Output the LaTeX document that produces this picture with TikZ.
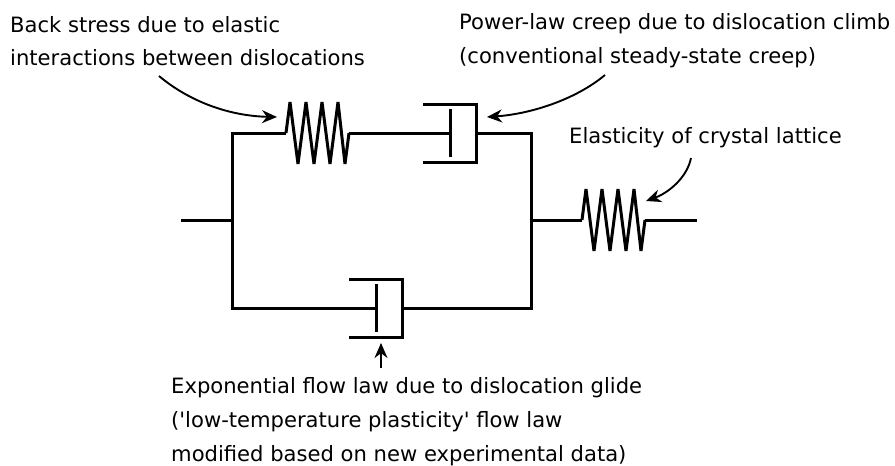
\documentclass[tikz,border=0pt]{standalone}
\usepackage{fontspec}
\setmainfont[Ligatures=TeXOff]{DejaVu Sans}
\usetikzlibrary{arrows.meta}
\tikzset{
    wire/.style={line width=3pt, line join=miter},
    pointer/.style={-{Stealth[length=15pt, width=13pt]}, line width=1.9pt},
    label/.style={anchor=base west, inner sep=0pt, font=\fontsize{21.1}{25}\selectfont}
}
% spring between two terminals, first peak at #1, y centre #2
\newcommand{\springat}[2]{
    \draw[wire, miter limit=3] (#1-4,#2) -- (#1,#2-31) -- (#1+8,#2+31) -- (#1+16,#2-31) -- (#1+24,#2+31)
        -- (#1+32,#2-31) -- (#1+40,#2+31) -- (#1+48,#2-31) -- (#1+55,#2+31) -- (#1+59,#2);
}
% cylinder closed on the right, piston rod at #1+27
\newcommand{\dashpotat}[2]{
    \draw[wire] (#1,#2-29) -- (#1+53,#2-29) -- (#1+53,#2+29) -- (#1,#2+29);
    \draw[wire] (#1+27,#2-24) -- (#1+27,#2+24);
}
\begin{document}
\begin{tikzpicture}[x=1pt, y=-1pt]
    \useasboundingbox (0,0) rectangle (895,466);

    \coordinate (inL)     at (181,220);
    \coordinate (jointL)  at (232,220);
    \coordinate (jointR)  at (531,220);
    \coordinate (outR)    at (697,220);
    \coordinate (cornerTL) at (232,133);
    \coordinate (cornerTR) at (531,133);
    \coordinate (cornerBL) at (232,308);
    \coordinate (cornerBR) at (531,308);
    \coordinate (backIn)  at (286,133);
    \coordinate (backOut) at (349,133);
    \coordinate (creepRod) at (450,133);
    \coordinate (creepEnd) at (476,133);
    \coordinate (glideRod) at (376,308);
    \coordinate (glideEnd) at (402,308);
    \coordinate (latIn)   at (582,220);
    \coordinate (latOut)  at (645,220);

    \springat{290}{133}
    \dashpotat{423}{133}
    \springat{586}{220}
    \dashpotat{349}{308}

    \draw[wire] (inL) -- (jointL);
    \draw[wire] (backIn) -- (cornerTL) -- (cornerBL) -- (glideRod);
    \draw[wire] (backOut) -- (creepRod);
    \draw[wire] (creepEnd) -- (cornerTR) -- (cornerBR) -- (glideEnd);
    \draw[wire] (jointR) -- (latIn);
    \draw[wire] (latOut) -- (outR);

    \node[label] (backtxt1) at (10,32) {Back stress due to elastic};
    \node[label] (backtxt2) at (10,65) {interactions between dislocations};
    \node[label] (creeptxt1) at (459,29) {Power-law creep due to dislocation climb};
    \node[label] (creeptxt2) at (459,63) {(conventional steady-state creep)};
    \node[label] (lattxt) at (569,143) {Elasticity of crystal lattice};
    \node[label] (glidetxt1) at (171,393) {Exponential flow law due to dislocation glide};
    \node[label] (glidetxt2) at (171,427) {('low-temperature plasticity' flow law};
    \node[label] (glidetxt3) at (171,461) {modified based on new experimental data)};

    \coordinate (backTip) at (277,117);
    \coordinate (creepTip) at (487,117);
    \coordinate (latTip) at (646,201);
    \coordinate (glideTip) at (381,343);
    \draw[pointer] (159,76) .. controls (190,102) and (230,116) .. (backTip);
    \draw[pointer] (605,75) .. controls (575,100) and (530,114) .. (creepTip);
    \draw[pointer] (691,158) .. controls (687,178) and (668,193) .. (latTip);
    \draw[pointer] (381,368) -- (glideTip);
\end{tikzpicture}
\end{document}
